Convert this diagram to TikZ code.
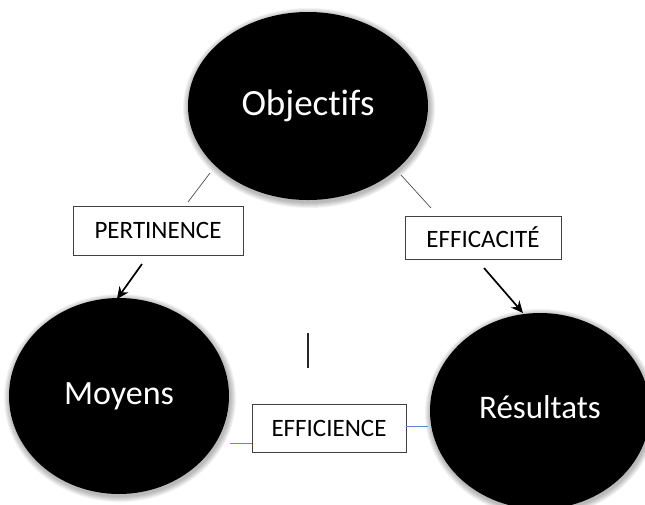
\documentclass[tikz,border=0pt]{standalone}
\usepackage{fontspec}
\setmainfont{Carlito}[Ligatures={NoCommon}]
\usetikzlibrary{shapes.geometric,arrows.meta}
\begin{document}
\begin{tikzpicture}[x=1pt,y=-1pt,
  bubble/.style={ellipse,fill=black,inner sep=0pt,text=white},
  tagbox/.style={draw=black!75,line width=0.8pt,fill=white,inner sep=0pt,font=\fontsize{25}{29}\selectfont},
  link/.style={line width=0.7pt,draw=black!70},
  arr/.style={line width=1.7pt,-{Stealth[length=12pt,width=11pt]}},
  bluelink/.style={line width=0.9pt,draw={rgb,255:red,95;green,135;blue,210}},
  halo/.style={fill=black,opacity=0.05}
]
\useasboundingbox (0,0) rectangle (645,504);
\clip (0,0) rectangle (645,504);
% soft halos
\foreach \i in {1,...,6}{
  \fill[halo] (309,108) ellipse [x radius={(120+\i)*1pt}, y radius={(94+\i)*1pt}];
  \fill[halo] (120,398) ellipse [x radius={(110+\i)*1pt}, y radius={(98+\i)*1pt}];
  \fill[halo] (541,413) ellipse [x radius={(110+\i)*1pt}, y radius={(98+\i)*1pt}];
}
\node[bubble,minimum width=240pt,minimum height=188pt,font=\fontsize{37}{41}\selectfont] (obj) at (308,106) {\raisebox{5pt}{Objectifs}};
\node[bubble,minimum width=220pt,minimum height=196pt,font=\fontsize{34}{38}\selectfont] (moy) at (119,396) {\raisebox{4pt}{Moyens}};
\node[bubble,minimum width=220pt,minimum height=196pt,font=\fontsize{33}{37}\selectfont] (res) at (540,411) {\raisebox{8pt}{Résultats}};

\node[tagbox,minimum width=170pt,minimum height=49pt] (pert) at (158,230.5) {PERTINENCE};
\node[tagbox,minimum width=156pt,minimum height=43pt] (effa) at (483,237.5) {EFFICACITÉ};
\node[tagbox,minimum width=154pt,minimum height=48pt] (effi) at (329,428) {EFFICIENCE};

\coordinate (l1a) at (210,173);
\coordinate (l1b) at (188,202);
\coordinate (r1a) at (401,175);
\coordinate (r1b) at (431,208);
\draw[link] (l1a) -- (l1b);
\draw[link] (r1a) -- (r1b);

\coordinate (l2a) at (142,264);
\coordinate (l2b) at (117,299);
\coordinate (r2a) at (484,268);
\coordinate (r2b) at (523,313);
\draw[arr] (l2a) -- (l2b);
\draw[arr] (r2a) -- (r2b);

\coordinate (va) at (308,333);
\coordinate (vb) at (308,368);
\draw[line width=1.2pt,draw=black!85] (va) -- (vb);

\coordinate (bl) at (230,443);
\coordinate (br) at (428,426);
\draw[bluelink] (bl) -- (effi.west |- bl);
\draw[bluelink] (effi.east |- br) -- (br);
\end{tikzpicture}
\end{document}
